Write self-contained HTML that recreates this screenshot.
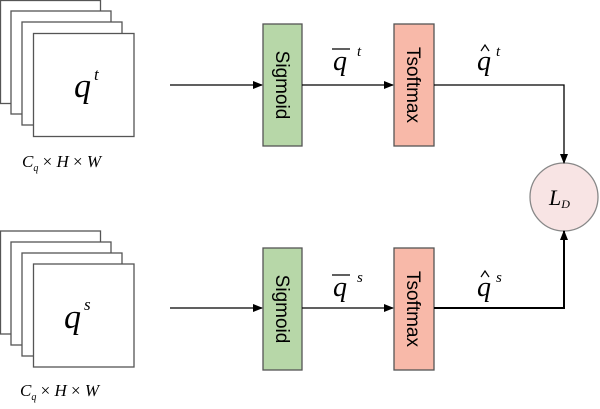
<!DOCTYPE html>
<html><head><style>body{margin:0;background:#fff}</style></head><body>
<svg width="600" height="404" viewBox="0 0 600 404" xmlns="http://www.w3.org/2000/svg" font-family="Liberation Serif, serif">
<defs><marker id="a" markerWidth="10" markerHeight="8" refX="9" refY="4" orient="auto" markerUnits="userSpaceOnUse"><path d="M0,0L10,4L0,8z" fill="#000"/></marker></defs>
<g fill="#fff" stroke="#555" stroke-width="1.3">
<rect x="0.5" y="0.5" width="100" height="103"/><rect x="11" y="11" width="100" height="103"/><rect x="22" y="22" width="100" height="103"/><rect x="33.5" y="33.5" width="100.5" height="103"/>
<rect x="0.5" y="231" width="100" height="103"/><rect x="11" y="242" width="100" height="103"/><rect x="22" y="253" width="100" height="103"/><rect x="33.5" y="264" width="100.5" height="103"/>
</g>
<text x="74" y="97" font-size="34" font-style="italic">q</text><text x="94" y="80" font-size="17" font-style="italic">t</text>
<text x="64" y="328" font-size="34" font-style="italic">q</text><text x="84" y="310" font-size="17" font-style="italic">s</text>
<text x="22" y="167" font-size="17" font-style="italic">C<tspan font-size="10" dy="4">q</tspan><tspan dy="-4" font-style="normal"> × </tspan>H<tspan font-style="normal"> × </tspan>W</text>
<text x="20" y="396" font-size="17" font-style="italic">C<tspan font-size="10" dy="4">q</tspan><tspan dy="-4" font-style="normal"> × </tspan>H<tspan font-style="normal"> × </tspan>W</text>
<g stroke="#555" stroke-width="1.3">
<rect x="263" y="24" width="39" height="122" fill="#b7d7a8"/><rect x="394" y="24" width="40" height="122" fill="#f8b9a9"/>
<rect x="263" y="248" width="39" height="122" fill="#b7d7a8"/><rect x="394" y="248" width="40" height="122" fill="#f8b9a9"/>
<circle cx="564" cy="197" r="34" fill="#f8e4e4" stroke="#888"/>
</g>
<g font-family="Liberation Sans, sans-serif" font-size="19" fill="#000">
<text transform="translate(276,85) rotate(90)" text-anchor="middle">Sigmoid</text>
<text transform="translate(407,85) rotate(90)" text-anchor="middle">Tsoftmax</text>
<text transform="translate(276,309) rotate(90)" text-anchor="middle">Sigmoid</text>
<text transform="translate(407,309) rotate(90)" text-anchor="middle">Tsoftmax</text>
</g>
<g stroke="#000" stroke-width="1.3" fill="none">
<line x1="170" y1="85" x2="262" y2="85" marker-end="url(#a)"/>
<line x1="302" y1="85" x2="393" y2="85" marker-end="url(#a)"/>
<polyline points="434,85 564,85 564,163" marker-end="url(#a)"/>
<line x1="170" y1="308" x2="262" y2="308" marker-end="url(#a)"/>
<line x1="302" y1="308" x2="393" y2="308" marker-end="url(#a)"/>
<polyline points="434,308 564,308 564,231" stroke-width="2" marker-end="url(#a)"/>
</g>
<g font-style="italic">
<text x="333" y="70" font-size="28">q</text><line x1="332" y1="49" x2="350" y2="49" stroke="#000" stroke-width="1.3"/><text x="357" y="56" font-size="15">t</text>
<text x="477" y="70" font-size="28">q</text><path d="M481,51 L485,45 L489,51" stroke="#000" stroke-width="1.2" fill="none"/><text x="496" y="56" font-size="15">t</text>
<text x="333" y="296" font-size="28">q</text><line x1="332" y1="275" x2="350" y2="275" stroke="#000" stroke-width="1.3"/><text x="357" y="282" font-size="15">s</text>
<text x="477" y="296" font-size="28">q</text><path d="M481,277 L485,271 L489,277" stroke="#000" stroke-width="1.2" fill="none"/><text x="496" y="282" font-size="15">s</text>
<text x="549" y="205" font-size="22">L<tspan font-size="12" dy="3">D</tspan></text>
</g>
</svg>
</body></html>
